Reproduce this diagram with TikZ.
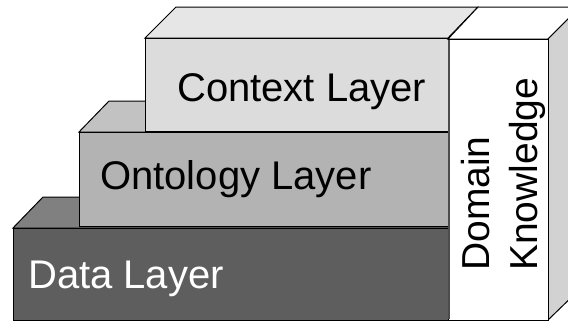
\documentclass[tikz,border=0pt]{standalone}
\usepackage{fontspec}
\setmainfont{Liberation Sans}
\definecolor{ctxfront}{HTML}{DCDCDC}
\definecolor{ctxtop}{HTML}{E6E6E6}
\definecolor{ontfront}{HTML}{B3B3B3}
\definecolor{onttop}{HTML}{C2C2C2}
\definecolor{datfront}{HTML}{5E5E5E}
\definecolor{dattop}{HTML}{808080}
\definecolor{domside}{HTML}{D2D2D2}
\tikzset{
  face/.style={draw=black, line width=1pt, line join=miter},
  lbl/.style={inner sep=0pt, font=\fontsize{40}{48}\selectfont},
  vlbl/.style={inner sep=0pt, font=\fontsize{39}{47}\selectfont, rotate=90}
}
\begin{document}
\begin{tikzpicture}[x=1pt,y=-1pt]
\useasboundingbox (0,0) rectangle (568,322);
\begin{scope}
\clip (0,0) rectangle (568,322);
% Data layer
\fill[dattop,face] (13,228) -- (43,197) -- (478,197) -- (448,228) -- cycle;
\fill[datfront,face] (13,228) rectangle (448,320);
% Ontology layer
\fill[onttop,face] (79,132) -- (109,101) -- (478,101) -- (448,132) -- cycle;
\fill[ontfront,face] (79,132) rectangle (448,226);
% Context layer
\fill[ctxtop,face] (145,38) -- (176,7) -- (478,7) -- (448,38) -- cycle;
\fill[ctxfront,face] (145,38) rectangle (448,131);
% Domain knowledge
\fill[white,face] (448,39) -- (478,7) -- (580,7) -- (548,39) -- cycle;
\fill[domside,face] (548,39) -- (580,7) -- (580,289) -- (548,320) -- cycle;
\fill[white,face] (448,39) rectangle (548,320);
\draw[line width=2.5pt, black!70] (449,40) -- (449,319);
\end{scope}
\node[lbl, anchor=base west] (ctx) at (177,101) {Context Layer};
\node[lbl, anchor=base west] (ont) at (100,189) {Ontology Layer};
\node[lbl, anchor=base west, text=white] (dat) at (28,288) {Data Layer};
\node[vlbl, anchor=base west] (dom) at (489,271) {Domain};
\node[vlbl, anchor=base west] (kno) at (537,271) {Knowledge};
\end{tikzpicture}
\end{document}
